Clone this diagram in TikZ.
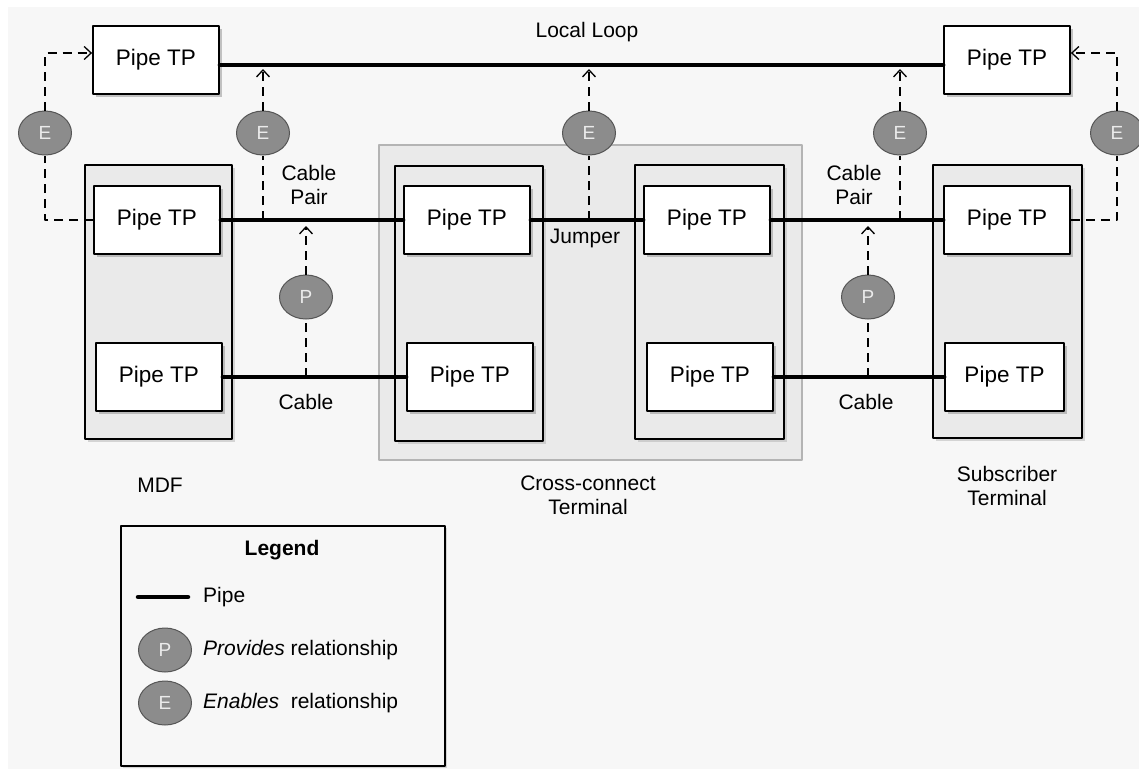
\documentclass[tikz,border=0pt]{standalone}
\usepackage{fontspec}
\setmainfont{Liberation Sans}
\usetikzlibrary{shapes.geometric,shadows,arrows.meta}
\definecolor{bgcol}{RGB}{247,247,247}
\definecolor{boxcol}{RGB}{234,234,234}
\definecolor{relfill}{RGB}{140,140,140}
\definecolor{reldraw}{RGB}{85,85,85}
\definecolor{ccdraw}{RGB}{180,180,180}
\tikzset{
  tp/.style={draw, line width=1.8pt, fill=white, minimum width=126pt, minimum height=68pt, inner sep=0pt,
    font=\fontsize{22.5}{24}\selectfont,
    drop shadow={shadow xshift=3pt, shadow yshift=-3pt, fill=black!45}},
  holder/.style={draw, line width=1.8pt, fill=boxcol, inner sep=0pt,
    drop shadow={shadow xshift=3pt, shadow yshift=-3pt, fill=black!30}},
  rel/.style={ellipse, draw=reldraw, line width=1pt, fill=relfill, minimum width=53pt, minimum height=44pt,
    inner sep=0pt, text=black!8, font=\fontsize{19}{19}\selectfont},
  pipe/.style={line width=4.5pt, line cap=round},
  dep/.style={line width=1.3pt, dash pattern=on 9pt off 6pt},
  lbl/.style={align=center}
}
\begin{document}
\begin{tikzpicture}[x=1pt, y=-1pt, line join=round, >={Straight Barb[length=7pt,width=13pt]},
    font=\fontsize{21}{24}\selectfont]
  \useasboundingbox (0,0) rectangle (1139,769);
  \fill[bgcol] (8,7) rectangle (1139,769);

  % terminals
  \node[draw=ccdraw, line width=1.2pt, fill=boxcol, minimum width=423pt, minimum height=315pt, inner sep=0pt] (cc) at (590.5,302.5) {};
  \node[holder, minimum width=147pt, minimum height=274pt] (mdf) at (158.5,302) {};
  \node[holder, minimum width=148pt, minimum height=275pt] (ccl) at (469,303.5) {};
  \node[holder, minimum width=149pt, minimum height=274pt] (ccr) at (709.5,302) {};
  \node[holder, minimum width=149pt, minimum height=273pt] (sub) at (1007.5,301.5) {};

  % termination points
  \node[tp] (loopL) at (156,60) {Pipe TP};
  \node[tp] (loopR) at (1007,60) {Pipe TP};
  \node[tp] (mdfA) at (157,220) {Pipe TP};
  \node[tp] (mdfB) at (159,377) {Pipe TP};
  \node[tp] (ccA) at (467,220) {Pipe TP};
  \node[tp] (ccB) at (470,377) {Pipe TP};
  \node[tp] (ccC) at (707,220) {Pipe TP};
  \node[tp] (ccD) at (710,377) {Pipe TP};
  \node[tp] (subA) at (1007,220) {Pipe TP};
  \node[tp, minimum width=119pt] (subB) at (1004.5,377) {Pipe TP};

  % labels
  \node (loopLbl) at (587,32) {Local Loop};
  \node[lbl] (pairL) at (309,185) {Cable\\Pair};
  \node[lbl] (pairR) at (854,185) {Cable\\Pair};
  \node (jump) at (585,238) {Jumper};
  \node (cabL) at (306,402) {Cable};
  \node (cabR) at (866,402) {Cable};
  \node (mdfLbl) at (160,485) {MDF};
  \node[lbl] (ccLbl) at (588,495) {Cross-connect\\Terminal};
  \node[lbl] (subLbl) at (1007,486) {Subscriber\\Terminal};

  % relationships
  \foreach \n/\x in {1/45, 2/263, 3/589, 4/900, 5/1117}
    \node[rel] (E\n) at (\x,133) {E};
  \node[rel] (P1) at (306,297) {P};
  \node[rel] (P2) at (868,297) {P};

  \path (263,220) coordinate (lo2) (263,65) coordinate (hi2)
        (589,220) coordinate (lo3) (589,65) coordinate (hi3)
        (900,220) coordinate (lo4) (900,65) coordinate (hi4)
        (306,377) coordinate (plo1) (306,220) coordinate (phi1)
        (868,377) coordinate (plo2) (868,220) coordinate (phi2);

  \draw[dep] (mdfA) -| (E1);
  \draw[dep,->] (E1) |- ([yshift=7pt]loopL.west);
  \draw[dep] (subA) -| (E5);
  \draw[dep,->] (E5) |- ([yshift=7pt]loopR.east);
  \foreach \n in {2,3,4} {
    \draw[dep] (lo\n) -- (E\n);
    \draw[dep,->,shorten >=4pt] (E\n) -- (hi\n);
  }
  \foreach \n in {1,2} {
    \draw[dep] (plo\n) -- (P\n);
    \draw[dep,->,shorten >=6pt] (P\n) -- (phi\n);
  }

  % pipes
  \draw[pipe] ([yshift=-5pt]loopL.east) -- ([yshift=-5pt]loopR.west);
  \draw[pipe] (mdfA) -- (ccA);
  \draw[pipe] (ccA) -- (ccC);
  \draw[pipe] (ccC) -- (subA);
  \draw[pipe] (mdfB) -- (ccB);
  \draw[pipe] (ccD) -- (subB);

  % legend
  \node[draw, line width=1.8pt, fill=bgcol, minimum width=324pt, minimum height=240pt, inner sep=0pt,
    drop shadow={shadow xshift=2pt, shadow yshift=-2pt, fill=black!30}] (legend) at (283,646) {};
  \node[font=\bfseries\fontsize{21}{24}\selectfont] (legTitle) at (282,550) {Legend};
  \path (138,597) coordinate (legA) (188,597) coordinate (legB);
  \draw[pipe] (legA) -- (legB);
  \node[anchor=west, inner sep=0pt] (legPipe) at (203,597) {Pipe};
  \node[rel] (legP) at (165,650) {P};
  \node[anchor=west, inner sep=0pt] (legProv) at (203,650) {\textit{Provides} relationship};
  \node[rel] (legE) at (165,703) {E};
  \node[anchor=west, inner sep=0pt] (legEnab) at (203,703) {\textit{Enables}\ \ relationship};
\end{tikzpicture}
\end{document}
